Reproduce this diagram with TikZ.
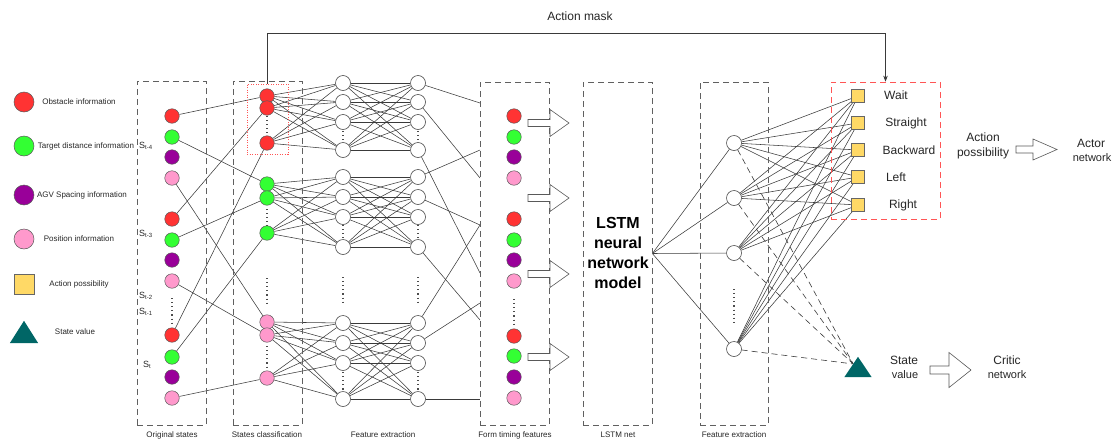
\documentclass[tikz,border=0pt]{standalone}
\usepackage{fontspec}
\setmainfont{Liberation Sans}
\usetikzlibrary{arrows.meta,backgrounds,calc}
\definecolor{obsred}{HTML}{FF3333}
\definecolor{tgtgreen}{HTML}{33FF33}
\definecolor{agvpurple}{HTML}{990099}
\definecolor{pospink}{HTML}{FF99CC}
\definecolor{actyellow}{HTML}{FFD966}
\definecolor{stateteal}{HTML}{006666}
\definecolor{edgegray}{HTML}{3A3A3A}
\definecolor{boxgray}{HTML}{606060}
\definecolor{maskred}{HTML}{FF5555}
\newcommand{\blkarrow}[6]{%
  \draw[barr] (#1,#2-#5) -- (#1+#3,#2-#5) -- (#1+#3,#2-#6) -- (#1+#4,#2) -- (#1+#3,#2+#6) -- (#1+#3,#2+#5) -- (#1,#2+#5) -- cycle;}
\begin{document}
\begin{tikzpicture}[x=1pt,y=-1pt,
  dotnode/.style={circle, draw=black!65, line width=0.5pt, minimum size=14.5pt, inner sep=0pt},
  fnode/.style={circle, draw=black!70, line width=0.6pt, fill=white, minimum size=15pt, inner sep=0pt},
  sqnode/.style={rectangle, draw=black!60, line width=0.6pt, fill=actyellow, minimum size=13pt, inner sep=0pt},
  conn/.style={draw=edgegray, line width=0.55pt},
  dconn/.style={draw=edgegray, line width=0.6pt, dash pattern=on 6pt off 4pt},
  grpbox/.style={draw=boxgray, line width=0.7pt, dash pattern=on 6pt off 4pt, inner sep=0pt},
  lbl/.style={font=\fontsize{8}{9.6}\selectfont, text=black!85, inner sep=0pt},
  slbl/.style={font=\fontsize{9}{10.8}\selectfont, text=black!85, inner sep=0pt, anchor=west},
  bigl/.style={font=\fontsize{12}{15}\selectfont, text=black!85, inner sep=0pt, align=center},
  midl/.style={font=\fontsize{11}{13}\selectfont, text=black!85, inner sep=0pt},
  vdots/.style={draw=black!70, line width=1.1pt, dash pattern=on 1.1pt off 3pt},
  barr/.style={draw=black!65, fill=white, line width=0.6pt}]
\useasboundingbox (0,0) rectangle (1115,442);

% ---------- legend ----------
\node[dotnode, minimum size=20pt, fill=obsred] (lg1) at (24,102) {};
\node[lbl] (lt1) at (79,102) {Obstacle information};
\node[dotnode, minimum size=20pt, fill=tgtgreen] (lg2) at (24,146) {};
\node[lbl] (lt2) at (86,146) {Target distance information};
\node[dotnode, minimum size=20pt, fill=agvpurple] (lg3) at (24,195) {};
\node[lbl] (lt3) at (82,195) {AGV Spacing information};
\node[dotnode, minimum size=20pt, fill=pospink] (lg4) at (24,239) {};
\node[lbl] (lt4) at (79,239) {Position information};
\node[sqnode, minimum size=20pt] (lg5) at (24,284) {};
\node[lbl] (lt5) at (79,284) {Action possibility};
\node[inner sep=0pt, minimum width=28pt, minimum height=22pt] (lg6) at (24,332) {};
\fill[stateteal] (lg6.south west) -- (lg6.north) -- (lg6.south east) -- cycle;
\node[lbl] (lt6) at (75,332) {State value};

% ---------- group boxes ----------
\node[grpbox, minimum width=69pt, minimum height=344pt] (box1) at (171.5,253) {};
\node[grpbox, minimum width=69pt, minimum height=344pt] (box2) at (267.5,253) {};
\node[grpbox, minimum width=69pt, minimum height=343pt] (box3) at (514.5,253.5) {};
\node[grpbox, minimum width=69pt, minimum height=343pt] (box4) at (617.5,253.5) {};
\node[grpbox, minimum width=68pt, minimum height=343pt] (box5) at (734,253.5) {};
\node[lbl] (bl1) at (172,435) {Original states};
\node[lbl] (bl2) at (267,435) {States classification};
\node[lbl] (bl3) at (383,435) {Feature extraction};
\node[lbl] (bl4) at (515,435) {Form timing features};
\node[lbl] (bl5) at (618,435) {LSTM net};
\node[lbl] (bl6) at (734,435) {Feature extraction};

% ---------- original states ----------
\foreach \i/\y/\c in {1/116/obsred,2/137/tgtgreen,3/157/agvpurple,4/178/pospink,
                      5/219/obsred,6/240/tgtgreen,7/260/agvpurple,8/281/pospink,
                      9/335/obsred,10/357/tgtgreen,11/377/agvpurple,12/398/pospink}
  \node[dotnode, fill=\c] (o\i) at (172,\y) {};
\node[slbl] (s4) at (139,146) {S\textsubscript{t-4}};
\node[slbl] (s3) at (139,234) {S\textsubscript{t-3}};
\node[slbl] (s2) at (139,296) {S\textsubscript{t-2}};
\node[slbl] (s1) at (139,312) {S\textsubscript{t-1}};
\node[slbl] (s0) at (143,365) {S\textsubscript{t}};
\draw[vdots] (172,298) -- (172,323);

% ---------- states classification ----------
\foreach \i/\y/\c in {1/96/obsred,2/108/obsred,3/143/obsred,
                      4/184/tgtgreen,5/198/tgtgreen,6/233/tgtgreen,
                      7/322/pospink,8/335/pospink,9/378/pospink}
  \node[dotnode, fill=\c] (c\i) at (267,\y) {};
\node[draw=maskred, line width=0.6pt, dash pattern=on 1pt off 1.5pt, minimum width=41pt, minimum height=70pt, inner sep=0pt] (rdot) at (267.5,119) {};
\draw[vdots] (267,116) -- (267,133);
\draw[vdots] (267,209) -- (267,226);
\draw[vdots] (267,346) -- (267,369);
\draw[vdots] (267,278) -- (267,303);

% ---------- feature extraction ----------
\foreach \i/\y in {1/83,2/102,3/122,4/150,5/177,6/197,7/217,8/247,9/323,10/343,11/363,12/399}{
  \node[fnode] (f\i) at (343,\y) {};
  \node[fnode] (g\i) at (418,\y) {};
}
\foreach \x in {343,418}{
  \draw[vdots] (\x,131) -- (\x,143);
  \draw[vdots] (\x,225) -- (\x,239);
  \draw[vdots] (\x,372) -- (\x,391);
  \draw[vdots] (\x,277) -- (\x,303);
}

% ---------- form timing features ----------
\foreach \i/\y/\c in {1/116/obsred,2/137/tgtgreen,3/157/agvpurple,4/178/pospink,
                      5/219/obsred,6/240/tgtgreen,7/260/agvpurple,8/281/pospink,
                      9/336/obsred,10/356/tgtgreen,11/377/agvpurple,12/398/pospink}
  \node[dotnode, fill=\c] (t\i) at (514,\y) {};
\draw[vdots] (514,299) -- (514,324);
\foreach \y in {103,150,178,225,273,303,320,399}
  \coordinate (e\y) at (480,\y);
\foreach \y in {123,198,274,357}{
  \blkarrow{528}{\y}{22}{41}{3.5}{13.5}
}

% ---------- LSTM ----------
\node[font=\fontsize{16}{20}\selectfont\bfseries, align=center, inner sep=0pt] (lstm) at (618,253) {LSTM\\neural\\network\\model};

% ---------- second feature extraction ----------
\foreach \i/\y in {1/143,2/198,3/253,4/349}
  \node[fnode] (h\i) at (734,\y) {};
\draw[vdots] (734,289) -- (734,324);

% ---------- outputs ----------
\node[draw=maskred, line width=0.7pt, dash pattern=on 6pt off 4pt, minimum width=109pt, minimum height=137pt, inner sep=0pt] (outbox) at (885.5,150.5) {};
\foreach \i/\y in {1/96,2/123,3/150,4/177,5/205}
  \node[sqnode] (q\i) at (858,\y) {};
\node[bigl] (w1) at (896,95) {Wait};
\node[bigl] (w2) at (906,123) {Straight};
\node[bigl] (w3) at (909,150) {Backward};
\node[bigl] (w4) at (896,177) {Left};
\node[bigl] (w5) at (903,205) {Right};
\node[inner sep=0pt, minimum width=27pt, minimum height=20pt] (tri) at (858,367) {};
\fill[stateteal] (tri.south west) -- (tri.north) -- (tri.south east) -- cycle;
\coordinate (trin) at ($(tri.north)!0.35!(tri.south west)$);

\node[bigl] (ap) at (983,146) {Action\\possibility};
\blkarrow{1016}{149.5}{17}{41}{3.5}{10.5}
\node[bigl] (actor) at (1091,143) {Actor};
\node[midl] (actn) at (1092,158) {network};
\node[bigl] (sv1) at (904,360) {State};
\node[midl] (sv2) at (905,375) {value};
\blkarrow{930}{370}{19}{41}{4}{17.5}
\node[bigl] (cr1) at (1007,360) {Critic};
\node[midl] (cr2) at (1007,375) {network};

% ---------- action mask ----------
\node[bigl] (amask) at (580,16) {Action mask};
\coordinate (mk) at (0,33);
\draw[conn, -{Stealth[length=6pt,width=4.5pt]}] (rdot.north) -- (rdot.north |- mk) -| (outbox.north);

% ---------- connectors ----------
\begin{scope}[on background layer]
\foreach \a/\b in {1/1,2/4,4/7,5/2,6/5,8/8,9/3,10/6,12/9}
  \draw[conn] (o\a) -- (c\b);
\foreach \g in {0,1,2}{
  \foreach \i in {1,2,3}{
    \foreach \j in {1,2,3,4}{
      \pgfmathtruncatemacro\ci{3*\g+\i}
      \pgfmathtruncatemacro\fj{4*\g+\j}
      \draw[conn] (c\ci) -- (f\fj);
    }
  }
}
\foreach \g in {0,1,2}{
  \foreach \i in {1,2,3,4}{
    \foreach \j in {1,2,3,4}{
      \pgfmathtruncatemacro\fa{4*\g+\i}
      \pgfmathtruncatemacro\gb{4*\g+\j}
      \draw[conn] (f\fa) -- (g\gb);
    }
  }
}
\foreach \a/\b in {1/103,2/178,4/273,5/150,6/225,8/320,9/225,10/303,12/399}
  \draw[conn] (g\a) -- (e\b);
\foreach \i in {1,2,3,4}
  \draw[conn] (box4.east) -- (h\i);
\foreach \i in {1,2,3,4}{
  \foreach \j in {1,2,3,4,5}
    \draw[conn] (h\i) -- (q\j);
  \draw[dconn] (h\i) -- (trin);
}
\end{scope}
\end{tikzpicture}
\end{document}
